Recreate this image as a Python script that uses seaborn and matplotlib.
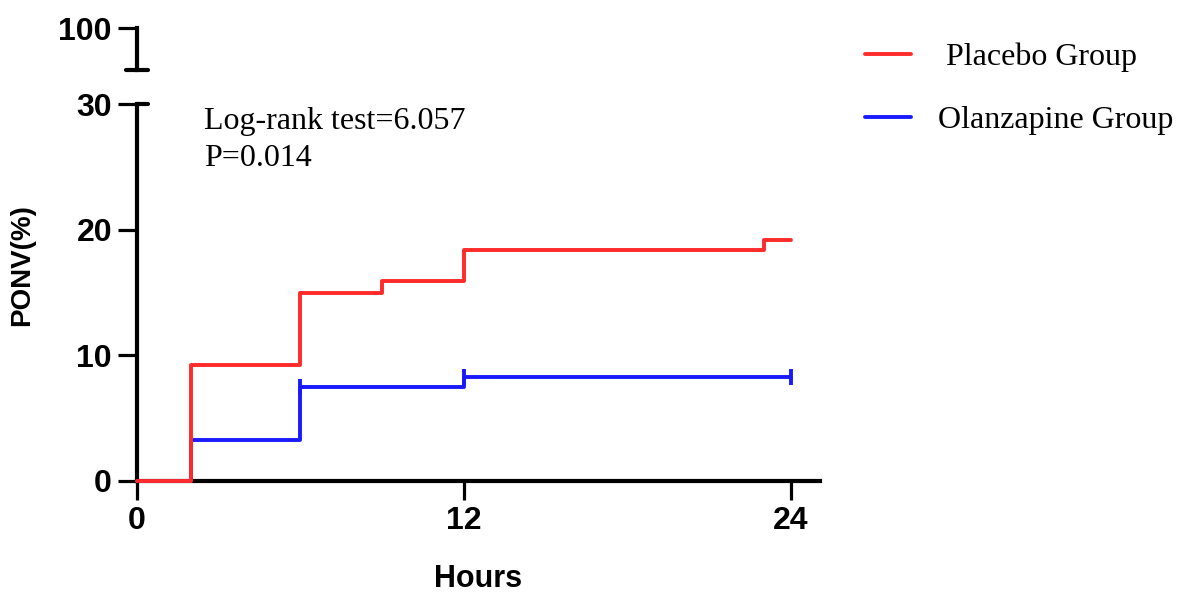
import matplotlib
matplotlib.use("Agg")
import numpy as np
import pandas as pd
import seaborn as sns
from matplotlib import pyplot as plt

# 数据：累计 PONV 发生率 (%)
placebo_hours = [0, 2, 6, 9, 12, 23, 24]
placebo_pct = [0, 9.2, 15.0, 15.9, 18.4, 19.2, 19.2]
olanz_hours = [0, 2, 6, 12, 24]
olanz_pct = [0, 3.3, 7.45, 8.3, 8.3]
olanz_censor_hours = [6, 12, 24]
olanz_censor_pct = [7.45, 8.3, 8.3]
groups = ["Placebo Group", "Olanzapine Group"]
colors = ["#ff2a2a", "#1a1aff"]

df = pd.concat([
    pd.DataFrame({"hours": olanz_hours, "pct": olanz_pct, "group": groups[1]}),
    pd.DataFrame({"hours": placebo_hours, "pct": placebo_pct, "group": groups[0]}),
])
censor = pd.DataFrame({"hours": olanz_censor_hours, "pct": olanz_censor_pct, "group": groups[1]})

sns.set_style("ticks")
plt.rcParams["font.family"] = ["Liberation Sans", "DejaVu Sans"]
plt.rcParams["text.color"] = "black"
plt.rcParams["axes.labelcolor"] = "black"
plt.rcParams["xtick.color"] = "black"
plt.rcParams["ytick.color"] = "black"
plt.rcParams["axes.edgecolor"] = "black"

fig = plt.figure(figsize=(11.78, 5.92), dpi=100)
W, H = 1178, 592
x0, x1 = 137, 820
ax = fig.add_axes([x0 / W, (H - 481) / H, (x1 - x0) / W, (481 - 104) / H])
ax_top = fig.add_axes([x0 / W, (H - 70) / H, (x1 - x0) / W, (70 - 28) / H])

sns.scatterplot(data=censor, x="hours", y="pct", color=colors[1], marker="|",
                s=120, linewidth=2.8, ax=ax, legend=False, zorder=3)
sns.lineplot(data=df, x="hours", y="pct", hue="group",
             hue_order=[groups[1], groups[0]],
             palette={groups[0]: colors[0], groups[1]: colors[1]},
             estimator=None, sort=False, drawstyle="steps-post",
             linewidth=2.8, ax=ax, legend=False, zorder=4, clip_on=False)

ax.set_xlim(0, 25.07)
ax.set_ylim(0, 30)
ax.set_xticks([0, 12, 24])
ax.set_yticks([0, 10, 20, 30])
ax.set_xlabel("Hours", fontsize=22, fontweight="bold", labelpad=20)
ax.set_ylabel("PONV(%)", fontsize=20, fontweight="bold")
for lab in ax.get_xticklabels() + ax.get_yticklabels():
    lab.set_fontweight("bold")
ax.tick_params(labelsize=23, width=2.3, length=14, pad=4)
sns.despine(ax=ax)
for s in ("left", "bottom"):
    ax.spines[s].set_linewidth(3)
ax.yaxis.set_label_coords(-0.149, 0.573)

# 上段坐标轴 (100)
ax_top.set_ylim(90, 100)
ax_top.set_yticks([100])
ax_top.set_xticks([])
ax_top.tick_params(axis="y", labelsize=23, width=2.3, length=14, pad=4)
for lab in ax_top.get_yticklabels():
    lab.set_fontweight("bold")
sns.despine(ax=ax_top, bottom=True)
ax_top.spines["left"].set_linewidth(3)
ax_top.set_xlim(ax.get_xlim())
ax_top.patch.set_alpha(0)

# 断轴标记
d = 11 / (x1 - x0)
ax_top.plot([-d, d], [0, 0], transform=ax_top.transAxes, color="black",
            lw=3, clip_on=False)
ax.plot([0, d], [1, 1], transform=ax.transAxes, color="black",
        lw=3, clip_on=False)

ax.text(2.45, 29.8, "Log-rank test=6.057\nP=0.014", va="top", ha="left",
        fontsize=23, family="Liberation Serif", linespacing=1.4)

handles = [plt.Line2D([], [], color=c, lw=2.8) for c in colors]
fig.legend(handles, [" " + groups[0], groups[1]], loc="upper left",
           bbox_to_anchor=(865 / W, 1 - 43 / H), frameon=False, borderpad=0,
           borderaxespad=0,
           prop={"family": "Liberation Serif", "size": 23},
           handlelength=1.45, handletextpad=0.85, labelspacing=1.05)

fig.savefig("out.png", dpi=100)
